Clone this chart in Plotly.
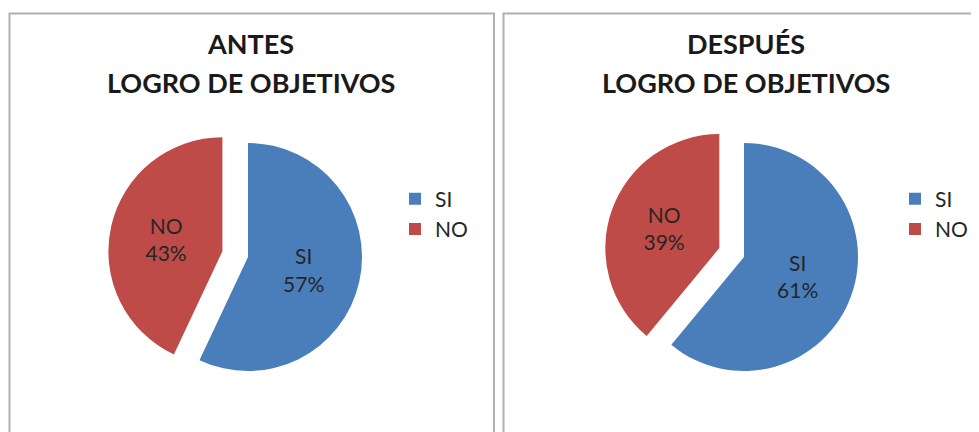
import plotly.graph_objects as go

# page has an 8px body margin, so the figure is drawn 8px right/down
OFF = 8
W, H = 979 - OFF, 432 - OFF

labels = ["SI", "NO"]
antes_values = [57, 43]
despues_values = [61, 39]
titles_line1 = ["ANTES", "DESPUÉS"]
title_line2 = "LOGRO DE OBJETIVOS"

colors = ["#4a7ebb", "#be4b48"]
FONT = "Lato"

def px_x(x):
    return (x - OFF) / W

def px_y(y):
    return 1 - (y - OFF) / H

fig = go.Figure()

r = 114
pull = 0.23
half = r * (1 + pull)
centers = [(248, 257), (744, 257)]
legends = ["legend", "legend2"]
# second pie gets zero-width-space-suffixed labels so its legend is not merged with the first
label_sets = [labels, [l + "\u200b" for l in labels]]
for i, vals in enumerate([antes_values, despues_values]):
    cx, cy = centers[i]
    fig.add_trace(go.Pie(
        labels=label_sets[i],
        values=vals,
        sort=False,
        direction="clockwise",
        rotation=0,
        pull=[0, pull],
        marker=dict(colors=colors, line=dict(color="rgba(0,0,0,0)", width=0)),
        texttemplate="%{label}<br>%{percent:.0%}",
        textposition="inside",
        insidetextorientation="horizontal",
        textfont=dict(family=FONT, size=21, color="#262626"),
        domain=dict(x=[px_x(cx - half), px_x(cx + half)],
                    y=[px_y(cy + half), px_y(cy - half)]),
        legend=legends[i],
        hoverinfo="label+percent",
    ))

legend_style = dict(
    font=dict(family=FONT, size=21, color="#262626"),
    bgcolor="rgba(0,0,0,0)",
    yanchor="middle",
    xanchor="left",
    traceorder="normal",
)

fig.update_layout(
    width=W, height=H,
    margin=dict(l=0, r=0, t=0, b=0),
    paper_bgcolor="white",
    plot_bgcolor="white",
    legend=dict(x=px_x(395), y=px_y(214), **legend_style),
    legend2=dict(x=px_x(895), y=px_y(214), **legend_style),
)

fig.add_shape(type="rect", xref="paper", yref="paper",
              x0=px_x(9.5), x1=px_x(494), y0=-0.2, y1=px_y(13.5),
              line=dict(color="#b0b0b0", width=2), fillcolor="rgba(0,0,0,0)")
fig.add_shape(type="rect", xref="paper", yref="paper",
              x0=px_x(503.5), x1=1.2, y0=-0.2, y1=px_y(13.5),
              line=dict(color="#b0b0b0", width=2), fillcolor="rgba(0,0,0,0)")

title_x = [251, 746]
for i in range(2):
    fig.add_annotation(x=px_x(title_x[i]), y=px_y(44), xref="paper", yref="paper",
                       text="<b>" + titles_line1[i] + "</b>", showarrow=False,
                       xanchor="center", yanchor="middle",
                       font=dict(family=FONT, size=27, color="#1a1a1a"))
    fig.add_annotation(x=px_x(title_x[i]), y=px_y(83), xref="paper", yref="paper",
                       text="<b>" + title_line2 + "</b>", showarrow=False,
                       xanchor="center", yanchor="middle",
                       font=dict(family=FONT, size=27, color="#1a1a1a"))

fig.write_html("out.html")
